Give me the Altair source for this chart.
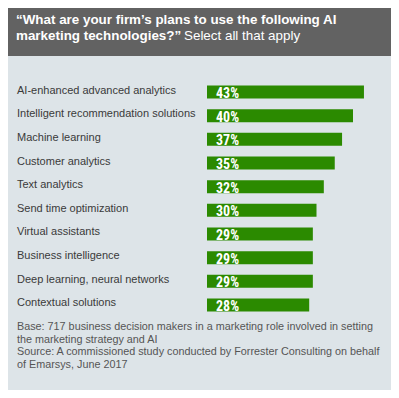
import altair as alt
import pandas as pd

categories = [
    "AI-enhanced advanced analytics",
    "Intelligent recommendation solutions",
    "Machine learning",
    "Customer analytics",
    "Text analytics",
    "Send time optimization",
    "Virtual assistants",
    "Business intelligence",
    "Deep learning, neural networks",
    "Contextual solutions",
]
values = [43, 40, 37, 35, 32, 30, 29, 29, 29, 28]

title_bold_1 = "\u201cWhat are your firm\u2019s plans to use the following AI"
title_bold_2 = "marketing technologies?\u201d"
title_normal = "Select all that apply"
footer_lines = [
    "Base: 717 business decision makers in a marketing role involved in setting",
    "the marketing strategy and AI",
    "Source: A commissioned study conducted by Forrester Consulting on behalf",
    "of Emarsys, June 2017",
]

W, H = 383, 382
BG = "#dde4e8"
HEADER = "#626262"
GREEN = "#2b8a00"

df = pd.DataFrame({"cat": categories, "val": values})
df["pct"] = df["val"].astype(str) + "%"

yscale = alt.Scale(domain=categories, range=[72.2, 308.8], paddingInner=0.45, paddingOuter=0.225)
xscale = alt.Scale(domain=[0, 100], range=[199, 564], zero=True)

base = alt.Chart(df)

bars = base.mark_bar(color=GREEN).encode(
    y=alt.Y("cat:N", scale=yscale, axis=None, sort=categories),
    x=alt.X("val:Q", scale=xscale, axis=None),
)

cat_labels = base.mark_text(
    align="left", baseline="alphabetic", dy=1.5, font="Liberation Sans",
    fontSize=11, color="#3a3a3a"
).encode(
    y=alt.Y("cat:N", scale=yscale, axis=None, sort=categories),
    x=alt.value(9),
    text="cat:N",
)

pct_labels = base.mark_text(
    align="left", baseline="alphabetic", dy=6,
    font="Roboto Condensed, Liberation Sans Narrow, Liberation Sans",
    fontSize=14, fontWeight="bold", color="white"
).encode(
    y=alt.Y("cat:N", scale=yscale, axis=None, sort=categories),
    x=alt.value(208),
    text="pct:N",
)

one = pd.DataFrame({"a": [0]})
header = alt.Chart(one).mark_rect(color=HEADER).encode(
    x=alt.value(0), x2=alt.value(W), y=alt.value(0), y2=alt.value(48)
)
t1 = alt.Chart(one).mark_text(
    text=title_bold_1, align="left", baseline="alphabetic", font="Liberation Sans",
    fontSize=13.4, fontWeight="bold", color="white"
).encode(x=alt.value(8), y=alt.value(16))
t2 = alt.Chart(one).mark_text(
    text=title_bold_2, align="left", baseline="alphabetic", font="Liberation Sans",
    fontSize=13.4, fontWeight="bold", color="white"
).encode(x=alt.value(8), y=alt.value(31.5))
t3 = alt.Chart(one).mark_text(
    text=title_normal, align="left", baseline="alphabetic", font="Liberation Sans",
    fontSize=13.4, color="white"
).encode(x=alt.value(176), y=alt.value(31.5))

footer = alt.Chart(one).mark_text(
    text=footer_lines, align="left", baseline="alphabetic", font="Liberation Sans",
    fontSize=10.8, color="#555555", lineHeight=12.7
).encode(x=alt.value(9), y=alt.value(322))

chart = alt.layer(header, t1, t2, t3, bars, cat_labels, pct_labels, footer).properties(
    width=W, height=H, autosize=alt.AutoSizeParams(type="none"), padding=0,
    background=BG
).configure_view(stroke=None)

chart.save("out.html", embed_options={"renderer": "svg", "actions": False})
